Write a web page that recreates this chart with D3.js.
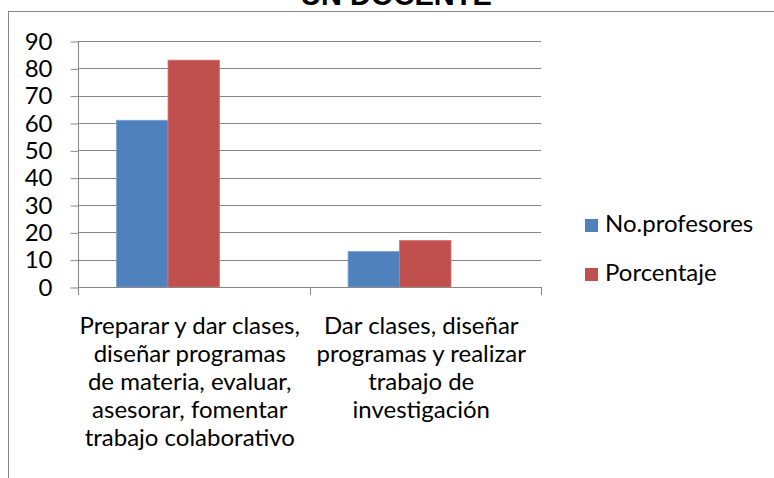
<!DOCTYPE html>
<html>
<head>
<meta charset="utf-8">
<script src="https://cdn.jsdelivr.net/npm/d3@7"></script>
<style>
  body { margin: 0; background: #fff; }
  svg { display: block; }
  text { font-family: Lato, "Noto Sans", sans-serif; fill: #000; }
</style>
</head>
<body>
<div id="chart"></div>
<script>
// data
const categories = [
  ["Preparar y dar clases,", "diseñar programas", "de materia, evaluar,", "asesorar, fomentar", "trabajo colaborativo"],
  ["Dar clases, diseñar", "programas y realizar", "trabajo de", "investigación"]
];
const seriesNames = ["No.profesores", "Porcentaje"];
const profesores = [61, 13];
const porcentaje = [83, 17];
const yTicks = [0, 10, 20, 30, 40, 50, 60, 70, 80, 90];
const colors = ["#4F81BD", "#C0504D"];
const strokes = ["#7a9fd2", "#d9726f"];

const w = 774, h = 478;
const gray = "#868686";
const fontSize = "24px";

const svg = d3.select("#chart").append("svg")
  .attr("width", w)
  .attr("height", h);

svg.append("rect").attr("width", w).attr("height", h).attr("fill", "#fff");

// chart border (runs off the right and bottom of the picture)
svg.append("rect")
  .attr("x", 8.5).attr("y", 11.5)
  .attr("width", 900).attr("height", 600)
  .attr("fill", "none")
  .attr("stroke", gray);

// title, only its lower part shows
svg.append("text")
  .attr("x", 396).attr("y", 5)
  .attr("text-anchor", "middle")
  .style("font-family", "'Liberation Sans', Arial, sans-serif")
  .style("font-weight", "bold")
  .style("font-size", "29px")
  .text("UN DOCENTE");

const plot = { left: 78, right: 541, top: 41, bottom: 287 };

const catIdx = categories.map((d, i) => i);
const x0 = d3.scaleBand()
  .domain(catIdx)
  .range([plot.left, plot.right]);

// three slots per group as in the source (third one is empty)
const x1 = d3.scaleBand()
  .domain([0, 1, 2])
  .range([0, x0.bandwidth()])
  .paddingInner(0)
  .paddingOuter(0.75);

const y = d3.scaleLinear()
  .domain([0, 90])
  .range([plot.bottom, plot.top]);

// grid lines
svg.append("g")
  .selectAll("line")
  .data(yTicks.filter(d => d > 0))
  .enter()
  .append("line")
  .attr("x1", plot.left).attr("x2", plot.right)
  .attr("y1", d => Math.round(y(d)) + 0.5)
  .attr("y2", d => Math.round(y(d)) + 0.5)
  .attr("stroke", gray);

// bars
const series = [profesores, porcentaje];
series.forEach(function(vals, s) {
  svg.append("g")
    .selectAll("rect")
    .data(vals)
    .enter()
    .append("rect")
    .attr("x", (d, i) => x0(i) + x1(s))
    .attr("width", x1.bandwidth())
    .attr("y", d => y(d))
    .attr("height", d => y(0) - y(d))
    .attr("fill", colors[s])
    .attr("stroke", strokes[s])
    .attr("stroke-width", 0.8);
});

// y axis
const yAxis = d3.axisLeft(y).tickValues(yTicks).tickSize(8).tickPadding(18);
const gy = svg.append("g")
  .attr("transform", "translate(" + (plot.left + 0.5) + ",0.5)")
  .call(yAxis);
gy.select(".domain").attr("stroke", gray).attr("d", "M0," + plot.top + "V" + plot.bottom);
gy.selectAll(".tick line").attr("stroke", gray);
gy.selectAll(".tick text")
  .style("font-family", "Lato, 'Noto Sans', sans-serif")
  .style("font-size", fontSize)
  .attr("fill", "#000");

// x axis with ticks on the category boundaries
const bounds = catIdx.map(i => x0(i)).concat([plot.right]);
svg.append("line")
  .attr("x1", plot.left).attr("x2", plot.right)
  .attr("y1", y(0) + 0.5).attr("y2", y(0) + 0.5)
  .attr("stroke", gray);
svg.append("g")
  .selectAll("line")
  .data(bounds)
  .enter()
  .append("line")
  .attr("x1", d => Math.round(d) + 0.5).attr("x2", d => Math.round(d) + 0.5)
  .attr("y1", y(0)).attr("y2", y(0) + 8)
  .attr("stroke", gray);

// category labels
const labels = svg.append("g")
  .selectAll("text")
  .data(categories)
  .enter()
  .append("text")
  .attr("text-anchor", "middle")
  .style("font-size", fontSize);
labels.each(function(lines, i) {
  const t = d3.select(this);
  lines.forEach(function(line, j) {
    t.append("tspan")
      .attr("x", x0(i) + x0.bandwidth() / 2 - 4)
      .attr("y", 334 + j * 28)
      .text(line);
  });
});

// legend
const legend = svg.append("g")
  .selectAll("g")
  .data(seriesNames)
  .enter()
  .append("g")
  .attr("transform", (d, i) => "translate(585," + (219 + i * 49) + ")");
legend.append("rect")
  .attr("width", 13).attr("height", 13)
  .attr("fill", (d, i) => colors[i]);
legend.append("text")
  .attr("x", 20).attr("y", 13)
  .style("font-size", fontSize)
  .text(d => d);
</script>
</body>
</html>
